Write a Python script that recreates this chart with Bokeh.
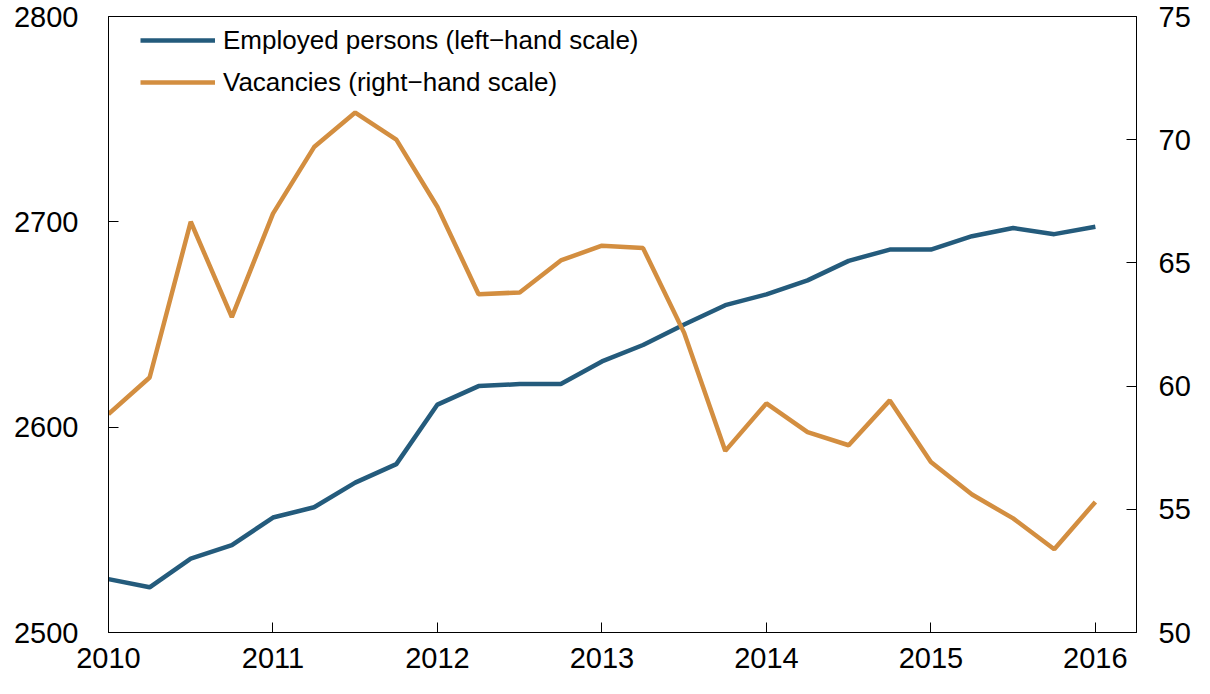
from bokeh.plotting import figure
from bokeh.models import Range1d, LinearAxis, FixedTicker, Legend, LegendItem
from bokeh.embed import file_html
from bokeh.resources import INLINE

# ---- data ----
quarters = ["2010Q1", "2010Q2", "2010Q3", "2010Q4",
            "2011Q1", "2011Q2", "2011Q3", "2011Q4",
            "2012Q1", "2012Q2", "2012Q3", "2012Q4",
            "2013Q1", "2013Q2", "2013Q3", "2013Q4",
            "2014Q1", "2014Q2", "2014Q3", "2014Q4",
            "2015Q1", "2015Q2", "2015Q3", "2015Q4",
            "2016Q1"]
employed = [2526, 2522, 2536, 2542.5,
            2556, 2561, 2573, 2582,
            2611, 2620, 2621, 2621,
            2632, 2640, 2650, 2659.4,
            2664.7, 2671.5, 2681, 2686.5,
            2686.5, 2693, 2697, 2694,
            2697.6]
vacancies = [58.86, 60.35, 66.67, 62.8,
             67.0, 69.7, 71.1, 70.0,
             67.27, 63.73, 63.8, 65.1,
             65.7, 65.6, 62.16, 57.37,
             59.3, 58.13, 57.6, 59.42,
             56.92, 55.6, 54.63, 53.38,
             55.3]
year_ticks = [2010, 2011, 2012, 2013, 2014, 2015, 2016]
left_ticks = [2500, 2600, 2700, 2800]
right_ticks = [50, 55, 60, 65, 70, 75]
labels = ["Employed persons (left\u2212hand scale)", "Vacancies (right\u2212hand scale)"]

x = [int(q[:4]) + (int(q[5]) - 1) / 4 for q in quarters]

BLUE = "#245B7C"
ORANGE = "#D38E40"
FONT = "Liberation Sans"

W, H = 1194, 678
BL, BT, BR, BB = 108, 16, 58, 46
frame_h = H - BT - BB

p = figure(width=W, height=H, output_backend="svg", toolbar_location=None,
           x_range=Range1d(2010, 2016.25), y_range=Range1d(2500, 2800),
           min_border_left=BL, min_border_right=BR, min_border_top=BT, min_border_bottom=BB)
p.extra_y_ranges = {"right": Range1d(50, 75)}
p.add_layout(LinearAxis(y_range_name="right"), "right")

p.grid.visible = False
p.outline_line_color = "black"
p.outline_line_width = 1
p.background_fill_color = "white"
p.border_fill_color = "white"

for ax in p.axis:
    ax.axis_line_color = "black"
    ax.major_tick_line_color = "black"
    ax.major_tick_in = 10
    ax.major_tick_out = 0
    ax.minor_tick_line_color = None
    ax.major_label_text_font = FONT
    ax.major_label_text_font_size = "29px"
    ax.major_label_text_color = "black"

p.xaxis.ticker = FixedTicker(ticks=year_ticks)
p.xaxis.major_label_standoff = 15
p.yaxis[0].ticker = FixedTicker(ticks=left_ticks)
p.yaxis[0].major_label_standoff = 30
p.yaxis[1].ticker = FixedTicker(ticks=right_ticks)
p.yaxis[1].major_label_standoff = 22

r1 = p.line(x, employed, line_color=BLUE, line_width=4.5)
r2 = p.line(x, vacancies, line_color=ORANGE, line_width=4.5, y_range_name="right")

legend = Legend(items=[LegendItem(label=labels[0], renderers=[r1]),
                       LegendItem(label=labels[1], renderers=[r2])],
                location=(32, frame_h - 8 - 74), margin=0, padding=0,
                glyph_width=75, glyph_height=32, label_height=32, spacing=10,
                label_standoff=8, label_text_font=FONT, label_text_font_size="26px",
                label_text_color="black",
                border_line_color=None, background_fill_alpha=0)
p.add_layout(legend)

open("out.html", "w").write(file_html(p, INLINE))
